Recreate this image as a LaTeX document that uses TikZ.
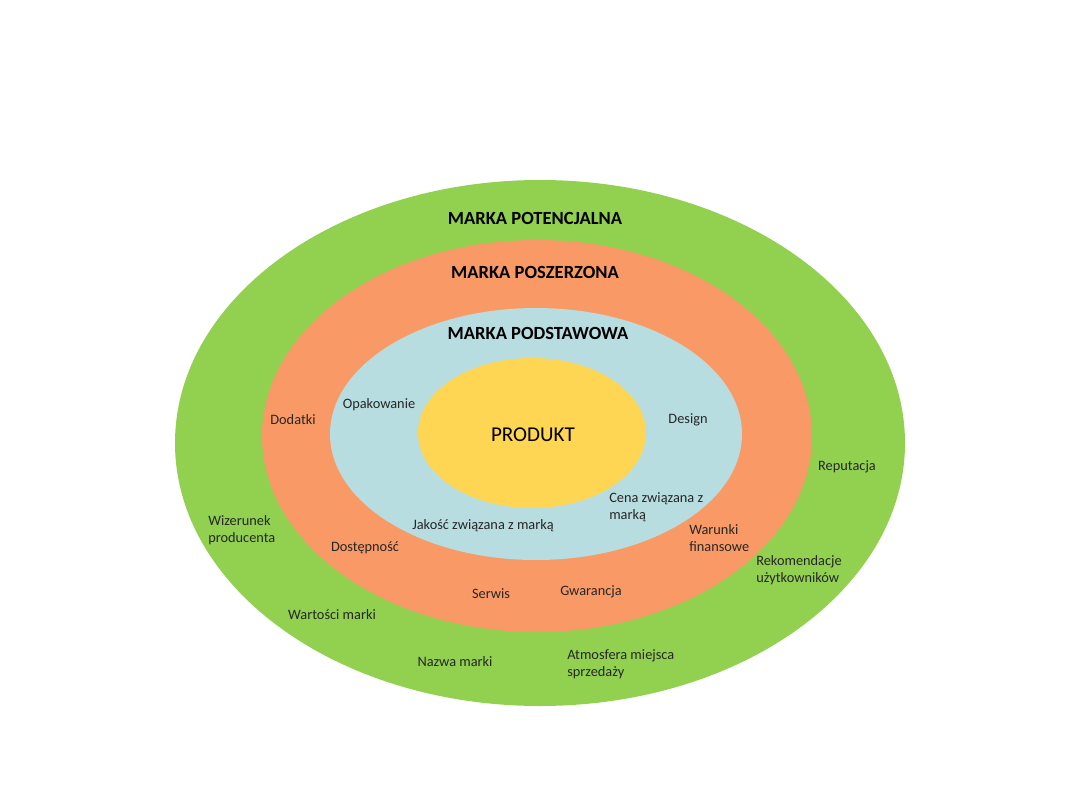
\documentclass[tikz,border=0pt]{standalone}
\usepackage{fontspec}
\setmainfont{Carlito}
\definecolor{potgreen}{HTML}{92D050}
\definecolor{poszorange}{HTML}{F99A66}
\definecolor{podblue}{HTML}{B7DDE0}
\definecolor{prodyellow}{HTML}{FFD654}
\begin{document}
\begin{tikzpicture}[x=0.025cm, y=-0.025cm,
  ring/.style={font=\bfseries\fontsize{13.2}{15}\selectfont},
  item/.style={font=\fontsize{10.2}{11.8}\selectfont, text=black!85, inner sep=0pt},
  itemleft/.style={item, align=left, anchor=west}]
\useasboundingbox (0,0) rectangle (1080,810);
\fill[potgreen] (540,443) ellipse [x radius=365, y radius=263];
\fill[poszorange] (537,436) ellipse [x radius=275, y radius=196];
\fill[podblue] (536,434) ellipse [x radius=206, y radius=126];
\fill[prodyellow] (532,433) ellipse [x radius=114, y radius=75];
\node[ring] (potencjalna) at (535,218) {MARKA POTENCJALNA};
\node[ring] (poszerzona) at (535,272) {MARKA POSZERZONA};
\node[ring] (podstawowa) at (538,333) {MARKA PODSTAWOWA};
\node[font=\fontsize{15}{18}\selectfont] (produkt) at (533,435) {PRODUKT};
\node[item] (opakowanie) at (379,405) {Opakowanie};
\node[item] (design) at (688,420) {Design};
\node[itemleft] (cena) at (609,507) {Cena związana z\\marką};
\node[item] (jakosc) at (483,526) {Jakość związana z marką};
\node[item] (dodatki) at (293,420) {Dodatki};
\node[item] (dostepnosc) at (365,548) {Dostępność};
\node[itemleft] (warunki) at (689,538) {Warunki\\finansowe};
\node[item] (serwis) at (491,594) {Serwis};
\node[item] (gwarancja) at (591,592) {Gwarancja};
\node[item] (reputacja) at (847,467) {Reputacja};
\node[itemleft] (wizerunek) at (208,530) {Wizerunek\\producenta};
\node[itemleft] (rekomendacje) at (756,570) {Rekomendacje\\użytkowników};
\node[item] (wartosci) at (332,615) {Wartości marki};
\node[item] (nazwa) at (455,662) {Nazwa marki};
\node[itemleft] (atmosfera) at (567,664) {Atmosfera miejsca\\sprzedaży};
\end{tikzpicture}
\end{document}
